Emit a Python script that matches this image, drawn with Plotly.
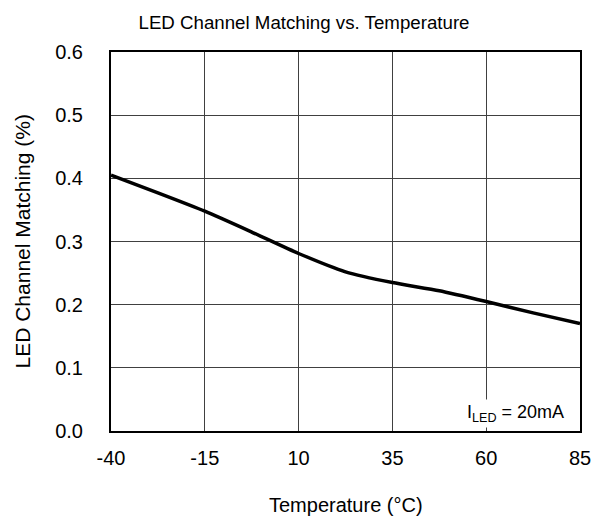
import plotly.graph_objects as go

# Channel-to-channel LED current matching over temperature (I_LED = 20 mA)
temperature_c = [-40, -27.5, -15, -2.5, 10, 22.5, 35, 47.5, 60, 72.5, 85]
matching_pct = [0.405, 0.377, 0.348, 0.315, 0.281, 0.252, 0.235, 0.222, 0.205, 0.187, 0.170]

x_ticks = [-40, -15, 10, 35, 60, 85]
y_ticks = [0.0, 0.1, 0.2, 0.3, 0.4, 0.5, 0.6]

FONT = "Arial, Liberation Sans, sans-serif"
W, H = 592, 516

fig = go.Figure()
fig.add_trace(go.Scatter(
    x=temperature_c, y=matching_pct, mode="lines",
    line=dict(color="black", width=3.5, shape="spline", smoothing=0.6),
    showlegend=False, hoverinfo="skip",
))

axis_common = dict(
    showgrid=True, gridcolor="#404040", gridwidth=1,
    showline=True, linecolor="black", linewidth=2, mirror=True,
    ticks="", zeroline=False, automargin=False,
    tickfont=dict(family=FONT, size=20, color="black"),
)

fig.update_xaxes(range=[-40, 85], tickvals=x_ticks,
                 ticktext=[str(v) for v in x_ticks],
                 ticklabelstandoff=8, **axis_common)
fig.update_yaxes(range=[0, 0.6], tickvals=y_ticks,
                 ticktext=[f"{v:.1f}" for v in y_ticks],
                 ticklabelstandoff=22, **axis_common)

fig.add_annotation(
    x=81.5, y=0.0, xref="x", yref="y", xanchor="right", yanchor="bottom",
    yshift=3,
    text="I<sub>LED</sub> = 20mA", showarrow=False,
    font=dict(family=FONT, size=18, color="black"),
    bgcolor="white", borderpad=2,
)

fig.add_annotation(
    x=0, y=0.5, xref="paper", yref="paper", xshift=-89,
    text="LED Channel Matching (%)", showarrow=False, textangle=-90,
    font=dict(family=FONT, size=21, color="black"), xanchor="center", yanchor="middle",
)
fig.add_annotation(
    x=0.5, y=0, xref="paper", yref="paper", yshift=-74,
    text="Temperature (°C)", showarrow=False,
    font=dict(family=FONT, size=20, color="black"), xanchor="center", yanchor="middle",
)

fig.update_layout(
    width=W, height=H,
    margin=dict(l=111, r=12, t=52, b=85),
    paper_bgcolor="white", plot_bgcolor="white",
    title=dict(
        text="LED Channel Matching vs. Temperature",
        font=dict(family=FONT, size=18.7, color="black"),
        xref="container", yref="container",
        x=304 / W, y=1 - 22 / H, xanchor="center", yanchor="middle",
    ),
)

fig.write_html("out.html")
